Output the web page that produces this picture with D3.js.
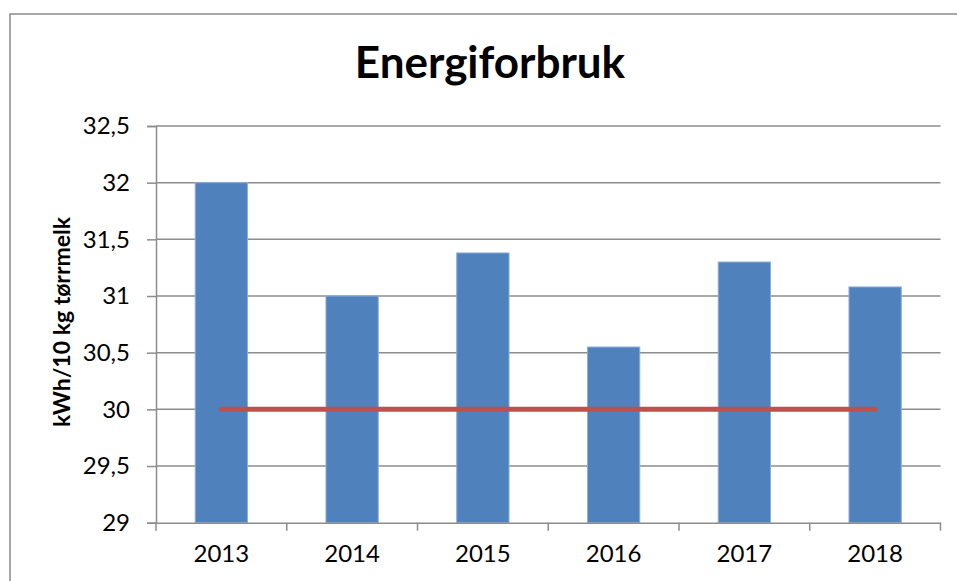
<!DOCTYPE html>
<html>
<head>
<meta charset="utf-8">
<script src="https://cdn.jsdelivr.net/npm/d3@7"></script>
<style>
  html, body { margin: 0; padding: 0; background: #fff; }
  svg { display: block; font-family: Lato, "Open Sans", sans-serif; }
</style>
</head>
<body>
<div id="chart"></div>
<script>
const W = 957, H = 581;

// data
const years = ["2013", "2014", "2015", "2016", "2017", "2018"];
const forbruk = [32.0, 31.0, 31.38, 30.55, 31.30, 31.08];
const maal = [30, 30, 30, 30, 30, 30];
const yTicks = [29, 29.5, 30, 30.5, 31, 31.5, 32, 32.5];

const plot = {left: 156, right: 940.5, top: 126, bottom: 522.7};

const svg = d3.select("#chart").append("svg")
    .attr("width", W)
    .attr("height", H);

// outer chart border (runs off the right and bottom edge)
svg.append("rect")
    .attr("x", 10).attr("y", 14)
    .attr("width", W + 20).attr("height", H + 20)
    .attr("fill", "none")
    .attr("stroke", "#8a8a8a")
    .attr("stroke-width", 1.5);

const x = d3.scaleBand()
    .domain(years)
    .range([plot.left, plot.right])
    .paddingInner(0.6)
    .paddingOuter(0.3);

const xc = d3.scaleBand().domain(years).range([plot.left, plot.right]);

const y = d3.scaleLinear()
    .domain([29, 32.5])
    .range([plot.bottom, plot.top]);

// gridlines
svg.append("g")
    .selectAll("line")
    .data(yTicks.slice(1))
    .enter()
    .append("line")
    .attr("x1", plot.left).attr("x2", plot.right)
    .attr("y1", d => y(d)).attr("y2", d => y(d))
    .attr("stroke", "#8c8c8c")
    .attr("stroke-width", 1.5);

// y axis
const yAxis = svg.append("g")
    .attr("transform", "translate(" + plot.left + ",0)")
    .call(d3.axisLeft(y).tickValues(yTicks).tickSize(9).tickPadding(17)
        .tickFormat(d => d3.format("")(d).replace(".", ",")));
yAxis.select(".domain").attr("stroke", "#8c8c8c").attr("stroke-width", 1.5);
yAxis.selectAll(".tick line").attr("stroke", "#8c8c8c").attr("stroke-width", 1.5);
yAxis.selectAll("text")
    .attr("fill", "#000")
    .style("font-size", "24px")
    .style("font-family", "Lato, sans-serif");

// bars
svg.append("g")
    .selectAll("rect")
    .data(forbruk)
    .enter()
    .append("rect")
    .attr("x", (d, i) => x(years[i]))
    .attr("width", x.bandwidth())
    .attr("y", d => y(d))
    .attr("height", d => y(29) - y(d))
    .attr("fill", "#4f81bd")
    .attr("stroke", "#8eaedb")
    .attr("stroke-width", 1);

// x axis
const xAxis = svg.append("g")
    .attr("transform", "translate(0," + plot.bottom + ")")
    .call(d3.axisBottom(xc).tickSize(0).tickPadding(22));
xAxis.select(".domain").attr("stroke", "#8c8c8c").attr("stroke-width", 1.5);
xAxis.selectAll("text")
    .attr("fill", "#000")
    .style("font-size", "24px")
    .style("font-family", "Lato, sans-serif");

// tick marks between categories
const bounds = years.map(d => xc(d)).concat([plot.right]);
svg.append("g")
    .selectAll("line")
    .data(bounds)
    .enter()
    .append("line")
    .attr("x1", d => d).attr("x2", d => d)
    .attr("y1", plot.bottom).attr("y2", plot.bottom + 8)
    .attr("stroke", "#8c8c8c")
    .attr("stroke-width", 1.5);

// target line
const line = d3.line()
    .x((d, i) => xc(years[i]) + xc.bandwidth() / 2)
    .y(d => y(d));
svg.append("path")
    .datum(maal)
    .attr("d", line)
    .attr("fill", "none")
    .attr("stroke", "#c0504d")
    .attr("stroke-width", 5)
    .attr("stroke-linecap", "round");

// title
svg.append("text")
    .attr("x", 490).attr("y", 78)
    .attr("text-anchor", "middle")
    .style("font-size", "44px")
    .style("font-weight", "bold")
    .style("font-family", "Lato, sans-serif")
    .text("Energiforbruk");

// y axis title
svg.append("text")
    .attr("transform", "translate(70,322) rotate(-90)")
    .attr("text-anchor", "middle")
    .style("font-size", "23px")
    .style("font-weight", "bold")
    .style("font-family", "Lato, sans-serif")
    .text("kWh/10 kg tørrmelk");
</script>
</body>
</html>
